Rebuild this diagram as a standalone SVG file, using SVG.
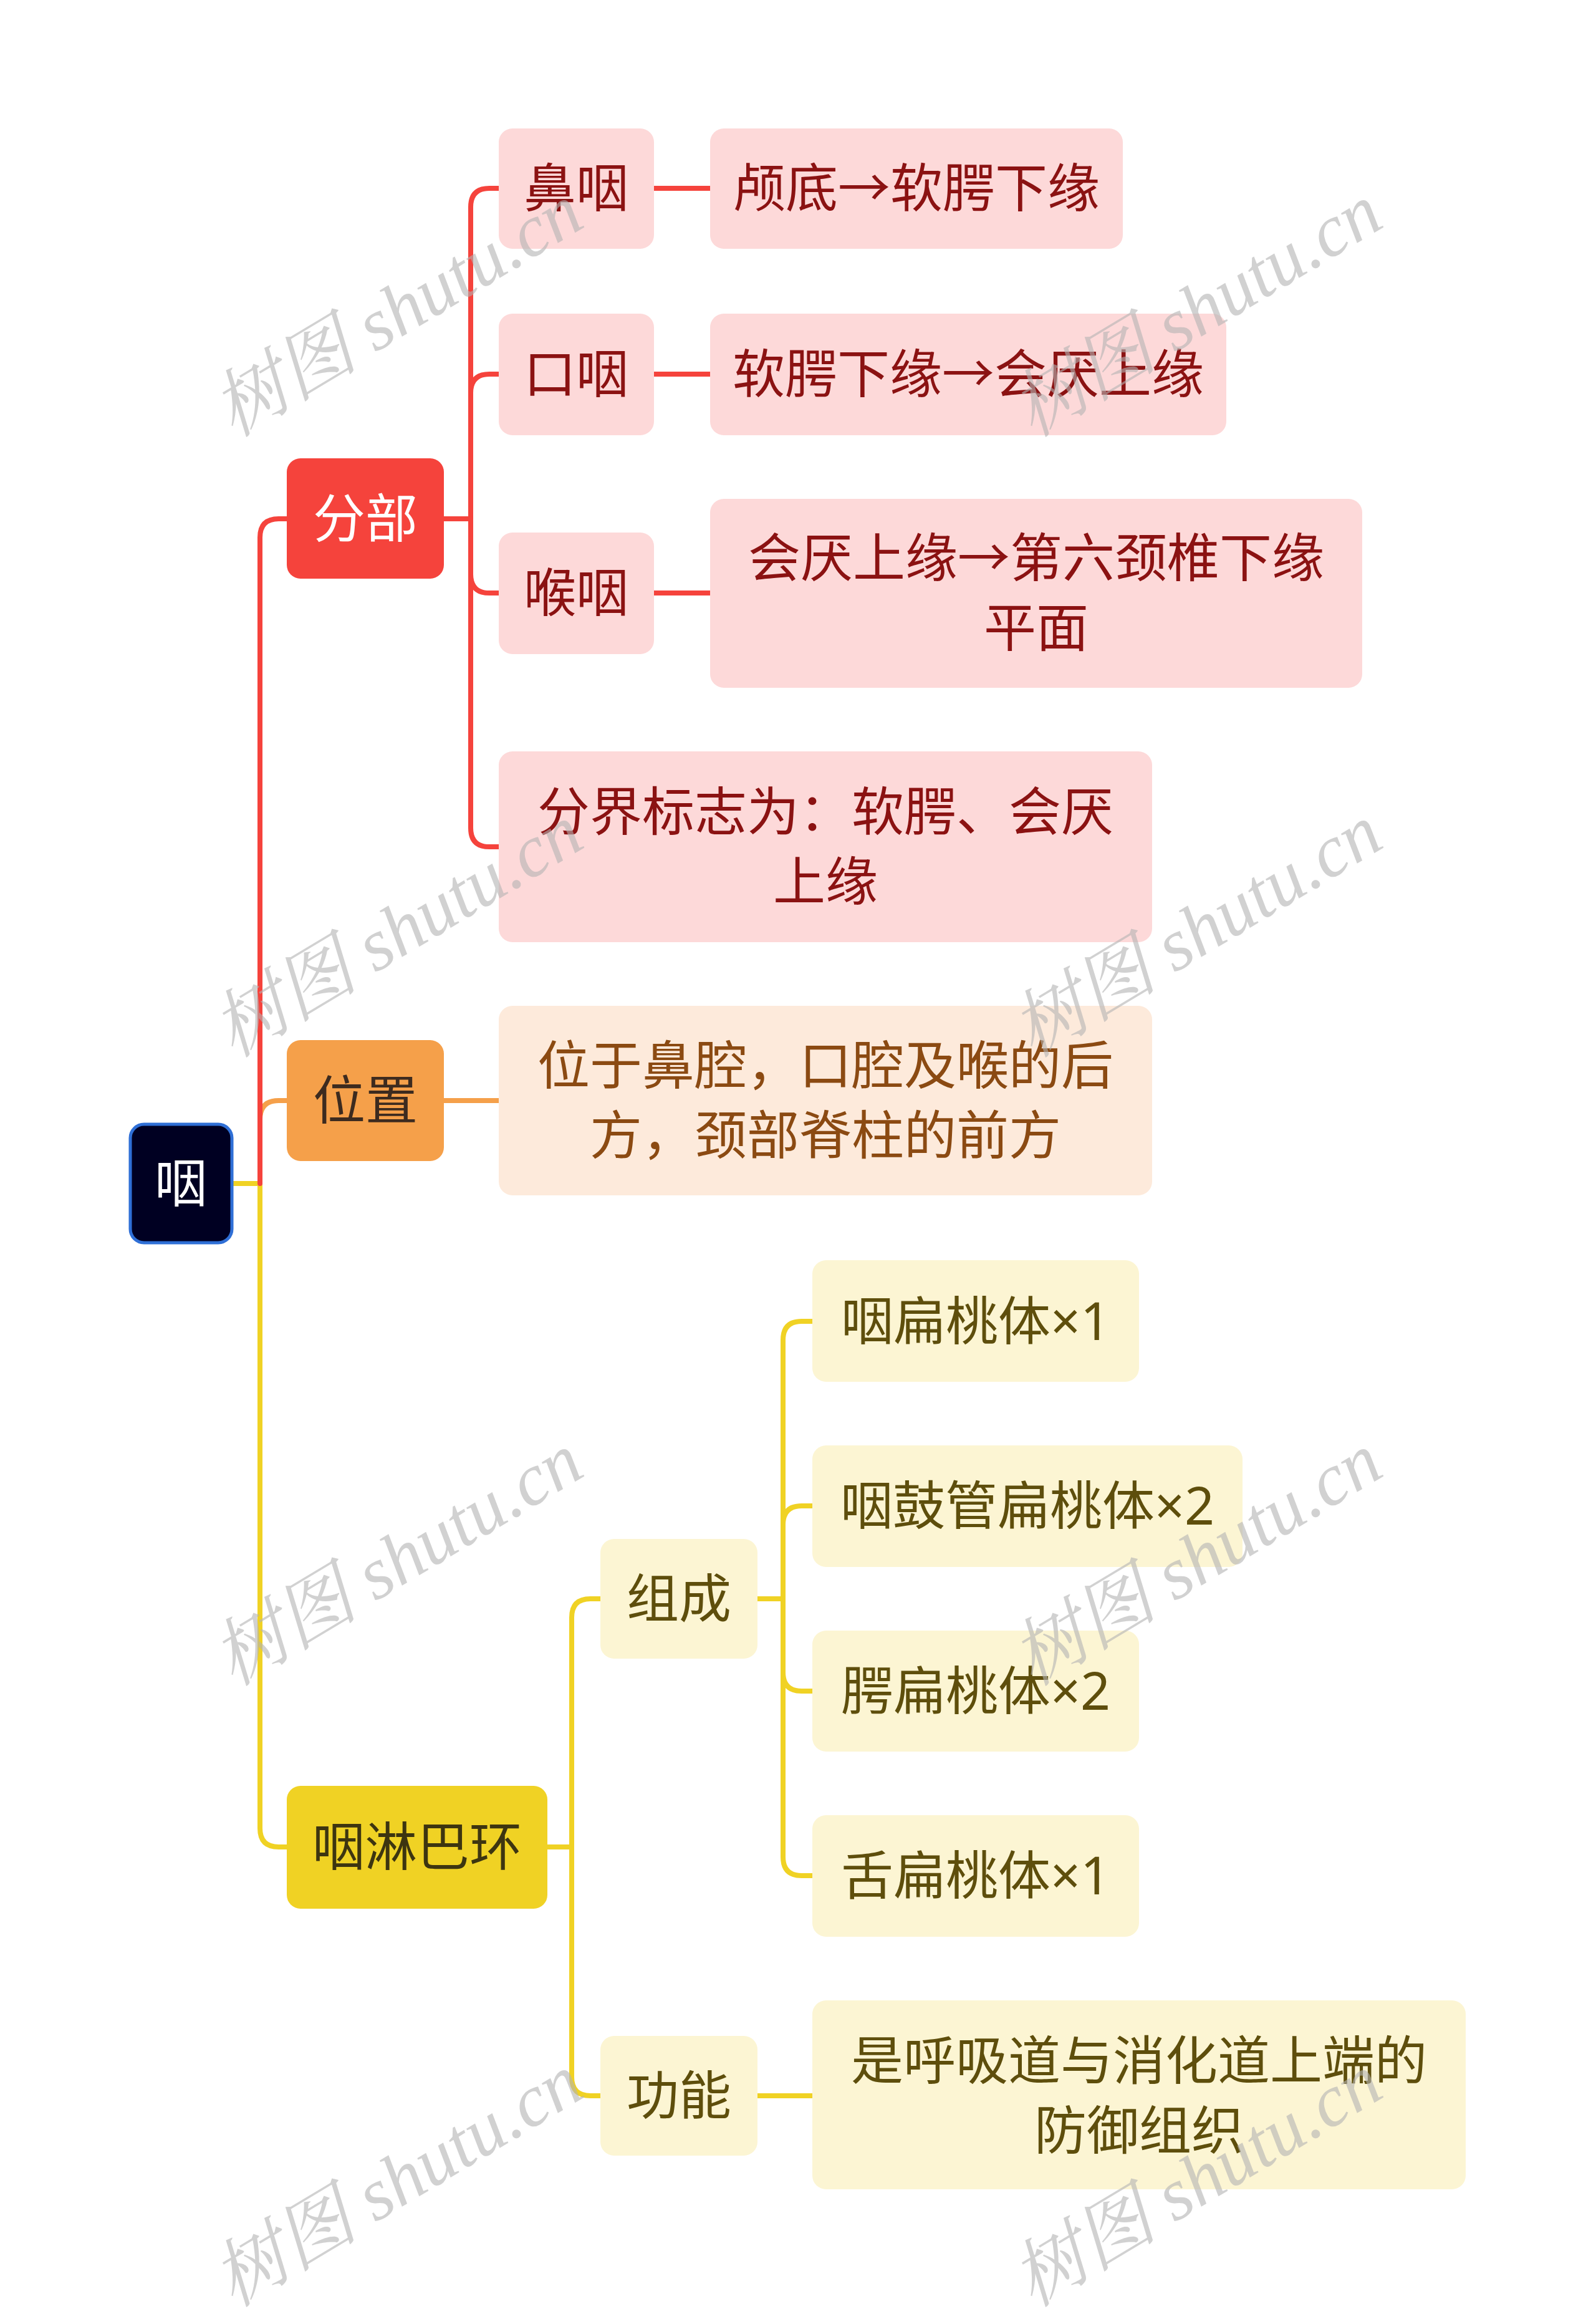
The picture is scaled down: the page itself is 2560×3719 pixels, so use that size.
<svg xmlns="http://www.w3.org/2000/svg" width="2560" height="3719" viewBox="0 0 2560 3719">
<style>
text{font-family:"Noto Sans CJK SC","Noto Sans",sans-serif;font-size:84px;text-anchor:middle}
.lat{font-family:"Noto Sans","Liberation Sans",sans-serif}
.wm{font-family:"Liberation Serif","Noto Serif CJK SC","Noto Sans CJK SC",serif;font-size:118px;fill:#b4b4b4;opacity:0.6;font-style:italic;text-anchor:middle}
.c{fill:none;stroke-width:8;stroke-linecap:round;stroke-linejoin:round}
.red{stroke:#f5433c}.org{stroke:#f5a04a}.yel{stroke:#f0d224}
.pk{fill:#fdd9d9}.pkt{fill:#8b1212}
.ok{fill:#fdeadb}.okt{fill:#8b4a12}
.yk{fill:#fcf5d3}.ykt{fill:#5e4e0c}
</style>
<rect width="2560" height="3719" fill="#ffffff"/>
<g id="connectors">
<path class="c yel" d="M372 1898 H417 V2932 Q417 2962 447 2962 H460"/>
<path class="c org" d="M417 1898 V1795 Q417 1765 447 1765 H460"/>
<path class="c red" d="M417 1898 V862 Q417 832 447 832 H460"/>
<path class="c red" d="M712 832 H755 V332 Q755 302 785 302 H800"/>
<path class="c red" d="M755 832 V630 Q755 600 785 600 H800"/>
<path class="c red" d="M755 832 V921 Q755 951 785 951 H800"/>
<path class="c red" d="M755 900 V1328 Q755 1358 785 1358 H800"/>
<path class="c red" d="M1049 302 H1139"/>
<path class="c red" d="M1049 600 H1139"/>
<path class="c red" d="M1049 951 H1139"/>
<path class="c org" d="M712 1765 H800"/>
<path class="c yel" d="M878 2962 H917 V2594 Q917 2564 947 2564 H963"/>
<path class="c yel" d="M917 2962 V3331 Q917 3361 947 3361 H963"/>
<path class="c yel" d="M1215 2564 H1256 V2149 Q1256 2119 1286 2119 H1303"/>
<path class="c yel" d="M1256 2564 V2445 Q1256 2415 1286 2415 H1303"/>
<path class="c yel" d="M1256 2564 V2682 Q1256 2712 1286 2712 H1303"/>
<path class="c yel" d="M1256 2650 V2978 Q1256 3008 1286 3008 H1303"/>
<path class="c yel" d="M1215 3361 H1303"/>
</g>
<g id="root">
<rect x="209" y="1803" width="163" height="190" rx="22" fill="#000022" stroke="#2f6fd6" stroke-width="5"/>
<text x="290" y="1928" fill="#ffffff">咽</text>
</g>
<g id="n-fenbu">
<rect x="460" y="735" width="252" height="193" rx="22" fill="#f5433c"/>
<text x="586" y="862" fill="#ffffff">分部</text>
</g>
<g id="n-weizhi">
<rect x="460" y="1668" width="252" height="194" rx="22" fill="#f5a04a"/>
<text x="586" y="1795" fill="#3d2b1f">位置</text>
</g>
<g id="n-linbahuan">
<rect x="460" y="2864" width="418" height="197" rx="22" fill="#f0d224"/>
<text x="669" y="2992" fill="#3d3510">咽淋巴环</text>
</g>
<g id="n-biyan">
<rect class="pk" x="800" y="206" width="249" height="193" rx="22"/>
<text class="pkt" x="924" y="332">鼻咽</text>
</g>
<g id="n-biyan-d">
<rect class="pk" x="1139" y="206" width="662" height="193" rx="22"/>
<text class="pkt" x="1470" y="332">颅底→软腭下缘</text>
</g>
<g id="n-kouyan">
<rect class="pk" x="800" y="503" width="249" height="195" rx="22"/>
<text class="pkt" x="924" y="630">口咽</text>
</g>
<g id="n-kouyan-d">
<rect class="pk" x="1139" y="503" width="828" height="195" rx="22"/>
<text class="pkt" x="1553" y="630">软腭下缘→会厌上缘</text>
</g>
<g id="n-houyan">
<rect class="pk" x="800" y="854" width="249" height="195" rx="22"/>
<text class="pkt" x="924" y="981">喉咽</text>
</g>
<g id="n-houyan-d">
<rect class="pk" x="1139" y="800" width="1046" height="303" rx="22"/>
<text class="pkt" x="1662" y="925">会厌上缘→第六颈椎下缘</text>
<text class="pkt" x="1662" y="1037">平面</text>
</g>
<g id="n-fenjie">
<rect class="pk" x="800" y="1205" width="1048" height="306" rx="22"/>
<text class="pkt" x="1324" y="1332">分界标志为：软腭、会厌</text>
<text class="pkt" x="1324" y="1444">上缘</text>
</g>
<g id="n-weizhi-d">
<rect class="ok" x="800" y="1613" width="1048" height="304" rx="22"/>
<text class="okt" x="1324" y="1739">位于鼻腔，口腔及喉的后</text>
<text class="okt" x="1324" y="1851">方，颈部脊柱的前方</text>
</g>
<g id="n-zucheng">
<rect class="yk" x="963" y="2468" width="252" height="192" rx="22"/>
<text class="ykt" x="1089" y="2594">组成</text>
</g>
<g id="n-gongneng">
<rect class="yk" x="963" y="3265" width="252" height="192" rx="22"/>
<text class="ykt" x="1089" y="3391">功能</text>
</g>
<g id="n-t1">
<rect class="yk" x="1303" y="2021" width="524" height="195" rx="22"/>
<text class="ykt" x="1565" y="2149">咽扁桃体<tspan class="lat">×1</tspan></text>
</g>
<g id="n-t2">
<rect class="yk" x="1303" y="2318" width="690" height="195" rx="22"/>
<text class="ykt" x="1648" y="2445">咽鼓管扁桃体<tspan class="lat">×2</tspan></text>
</g>
<g id="n-t3">
<rect class="yk" x="1303" y="2615" width="524" height="194" rx="22"/>
<text class="ykt" x="1565" y="2742">腭扁桃体<tspan class="lat">×2</tspan></text>
</g>
<g id="n-t4">
<rect class="yk" x="1303" y="2911" width="524" height="195" rx="22"/>
<text class="ykt" x="1565" y="3038">舌扁桃体<tspan class="lat">×1</tspan></text>
</g>
<g id="n-gongneng-d">
<rect class="yk" x="1303" y="3208" width="1048" height="303" rx="22"/>
<text class="ykt" x="1827" y="3335">是呼吸道与消化道上端的</text>
<text class="ykt" x="1827" y="3447">防御组织</text>
</g>
<g id="watermarks">
<text class="wm" transform="translate(658 532) rotate(-31)">树图 shutu.cn</text>
<text class="wm" transform="translate(1940 532) rotate(-31)">树图 shutu.cn</text>
<text class="wm" transform="translate(658 1527) rotate(-31)">树图 shutu.cn</text>
<text class="wm" transform="translate(1940 1527) rotate(-31)">树图 shutu.cn</text>
<text class="wm" transform="translate(658 2535) rotate(-31)">树图 shutu.cn</text>
<text class="wm" transform="translate(1940 2535) rotate(-31)">树图 shutu.cn</text>
<text class="wm" transform="translate(658 3531) rotate(-31)">树图 shutu.cn</text>
<text class="wm" transform="translate(1940 3531) rotate(-31)">树图 shutu.cn</text>
</g>
</svg>
